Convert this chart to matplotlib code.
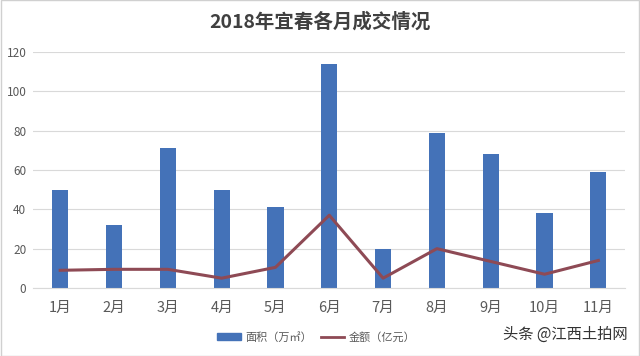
import matplotlib
matplotlib.use('Agg')
import matplotlib.pyplot as plt
from matplotlib.patches import Patch
from matplotlib.lines import Line2D

plt.rcParams['font.family'] = ['Noto Sans CJK SC', 'DejaVu Sans']

# 数据
months = ['1月', '2月', '3月', '4月', '5月', '6月', '7月', '8月', '9月', '10月', '11月']
area = [50, 32, 71, 50, 41, 114, 20, 79, 68, 38, 59]        # 面积（万㎡）
amount = [9, 9.5, 9.5, 5, 10.5, 37, 5, 20, 13.5, 7, 14]     # 金额（亿元）
yticks = [0, 20, 40, 60, 80, 100, 120]

bar_color = '#4472B8'
line_color = '#8E4A55'
text_color = '#595959'

fig = plt.figure(figsize=(6.4, 3.56), dpi=100)
ax = fig.add_axes([0.052, 0.191, 0.925, 0.663])

x = list(range(len(months)))
ax.bar(x, area, width=0.3, color=bar_color, zorder=2)
ax.plot(x, amount, color=line_color, lw=2.2, zorder=3)

ax.set_xlim(-0.5, len(months) - 0.5)
ax.set_ylim(0, 120)
ax.set_yticks(yticks)
ax.set_xticks(x)
ax.set_xticklabels(months, fontsize=10.5, color=text_color)
ax.tick_params(axis='y', labelsize=8.5, colors=text_color, length=0, pad=5)
ax.tick_params(axis='x', length=0, pad=9)
ax.yaxis.grid(True, color='#D9D9D9', lw=0.8, zorder=0)
ax.set_axisbelow(True)
for s in ['top', 'right', 'left']:
    ax.spines[s].set_visible(False)
ax.spines['bottom'].set_color('#D9D9D9')
ax.spines['bottom'].set_linewidth(0.8)

fig.text(0.5, 0.94, '2018年宜春各月成交情况', ha='center', va='center',
         fontsize=14, fontweight='bold', color='#404040')

handles = [Patch(color=bar_color), Line2D([0], [0], color=line_color, lw=2)]
fig.legend(handles, ['面积（万㎡）', '金额（亿元）'], loc='center',
           bbox_to_anchor=(0.494, 0.053), ncol=2, frameon=False, fontsize=8,
           labelcolor=text_color, handlelength=2.1, handleheight=0.5,
           columnspacing=0.8, handletextpad=0.4)

fig.text(0.98, 0.06, '头条 @江西土拍网', ha='right', va='center',
         fontsize=11, color='#333333')

fig.patches.append(plt.Rectangle((0.001, 0.001), 0.998, 0.998, transform=fig.transFigure,
                                 fill=False, edgecolor='#D0D0D0', lw=1))

fig.savefig('out.png', dpi=100)
